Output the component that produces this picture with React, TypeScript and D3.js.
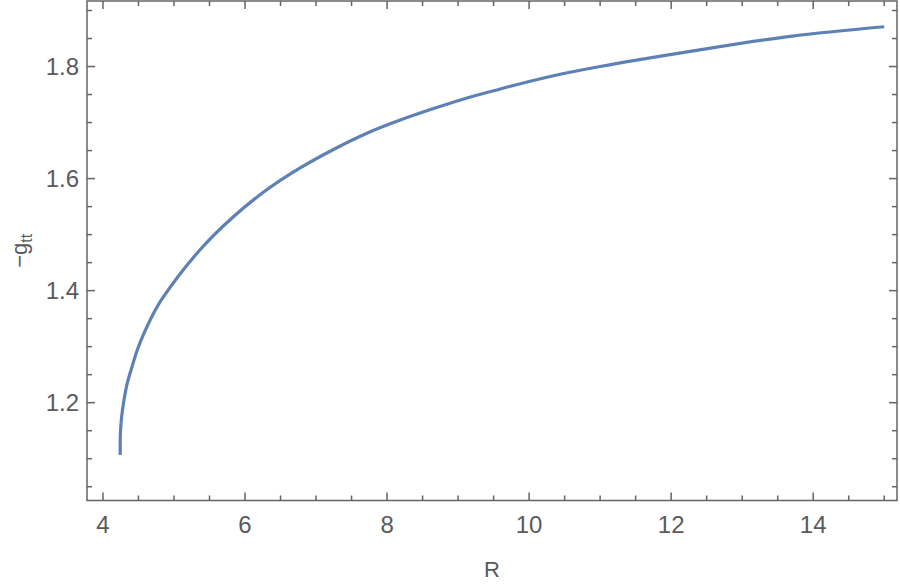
import React, { useEffect, useRef } from "react";
import * as d3 from "d3";

// values (-g_tt against R)
const rValues = [4.243, 4.245, 4.263, 4.296, 4.342, 4.409, 4.483, 4.578, 4.686, 4.836, 5.367, 5.836, 6.306, 6.776, 7.245, 7.716, 8.185, 8.654, 9.125, 9.594, 10.25, 11.0, 12.27, 13.68, 15.0];
const gttValues = [1.1066, 1.145, 1.175, 1.205, 1.235, 1.264, 1.294, 1.324, 1.353, 1.386, 1.473, 1.532, 1.580, 1.619, 1.652, 1.681, 1.7045, 1.725, 1.744, 1.760, 1.781, 1.800, 1.827, 1.854, 1.871];

const xMajorTicks = [4, 6, 8, 10, 12, 14];
const yMajorTicks = [1.2, 1.4, 1.6, 1.8];
const xDomain = [3.775, 15.18];
const yDomain = [1.0254, 1.917];

const App = () => {
    const svgRef = useRef(null);

    useEffect(() => {
        const svg = d3.select(svgRef.current);
        svg.selectAll("*").remove();

        const width = 900;
        const height = 584;
        const left = 87, right = 897, top = 1, bottom = 500.5;
        const frameColor = "#646464";
        const textColor = "#5a5a5a";
        const font = "'Liberation Sans', Arial, sans-serif";

        const x = d3.scaleLinear().domain(xDomain).range([left, right]);
        const y = d3.scaleLinear().domain(yDomain).range([bottom, top]);

        svg.attr("width", width).attr("height", height);

        // curve
        const data = rValues.map((r, i) => ({ r, g: gttValues[i] }));
        const line = d3.line()
            .x(d => x(d.r))
            .y(d => y(d.g))
            .curve(d3.curveCatmullRom.alpha(0.5));

        svg.append("path")
            .datum(data)
            .attr("d", line)
            .attr("fill", "none")
            .attr("stroke", "#5e81b5")
            .attr("stroke-width", 3.2)
            .attr("stroke-linejoin", "round");

        // frame
        svg.append("rect")
            .attr("x", left)
            .attr("y", top)
            .attr("width", right - left)
            .attr("height", bottom - top)
            .attr("fill", "none")
            .attr("stroke", frameColor)
            .attr("stroke-width", 1.5);

        const majorLen = 8;
        const minorLen = 5;

        // x ticks (every 0.5, labelled every 2)
        const xTicks = d3.range(4, 15.01, 0.5);
        xTicks.forEach(v => {
            const isMajor = xMajorTicks.some(t => Math.abs(t - v) < 1e-6);
            const len = isMajor ? majorLen : minorLen;
            const px = x(v);
            svg.append("line")
                .attr("x1", px).attr("x2", px)
                .attr("y1", bottom).attr("y2", bottom - len)
                .attr("stroke", frameColor).attr("stroke-width", 1.5);
            svg.append("line")
                .attr("x1", px).attr("x2", px)
                .attr("y1", top).attr("y2", top + len)
                .attr("stroke", frameColor).attr("stroke-width", 1.5);
        });
        xMajorTicks.forEach(v => {
            svg.append("text")
                .attr("x", x(v))
                .attr("y", bottom + 32)
                .attr("text-anchor", "middle")
                .style("font-family", font)
                .style("font-size", "24px")
                .style("fill", textColor)
                .text(v);
        });

        // y ticks (every 0.05, labelled every 0.2)
        const yTicks = d3.range(1.05, 1.91, 0.05);
        yTicks.forEach(v => {
            const isMajor = yMajorTicks.some(t => Math.abs(t - v) < 1e-6);
            const len = isMajor ? majorLen : minorLen;
            const py = y(v);
            svg.append("line")
                .attr("x1", left).attr("x2", left + len)
                .attr("y1", py).attr("y2", py)
                .attr("stroke", frameColor).attr("stroke-width", 1.5);
            svg.append("line")
                .attr("x1", right).attr("x2", right - len)
                .attr("y1", py).attr("y2", py)
                .attr("stroke", frameColor).attr("stroke-width", 1.5);
        });
        yMajorTicks.forEach(v => {
            svg.append("text")
                .attr("x", left - 8)
                .attr("y", y(v))
                .attr("dy", "0.36em")
                .attr("text-anchor", "end")
                .style("font-family", font)
                .style("font-size", "24px")
                .style("fill", textColor)
                .text(v.toFixed(1));
        });

        // axis labels
        svg.append("text")
            .attr("x", (left + right) / 2)
            .attr("y", 577)
            .attr("text-anchor", "middle")
            .style("font-family", font)
            .style("font-size", "22px")
            .style("fill", textColor)
            .text("R");

        const yLabel = svg.append("text")
            .attr("transform", `translate(27,${(top + bottom) / 2}) rotate(-90)`)
            .attr("text-anchor", "middle")
            .style("font-family", font)
            .style("font-size", "22px")
            .style("fill", textColor);
        yLabel.append("tspan").text("\u2212g");
        yLabel.append("tspan")
            .attr("dy", 5)
            .style("font-size", "16px")
            .text("tt");
    }, []);

    return (
        <svg
            ref={svgRef}
            style={{ position: "absolute", left: 0, top: 0, background: "white" }}
        />
    );
};

export default App;
